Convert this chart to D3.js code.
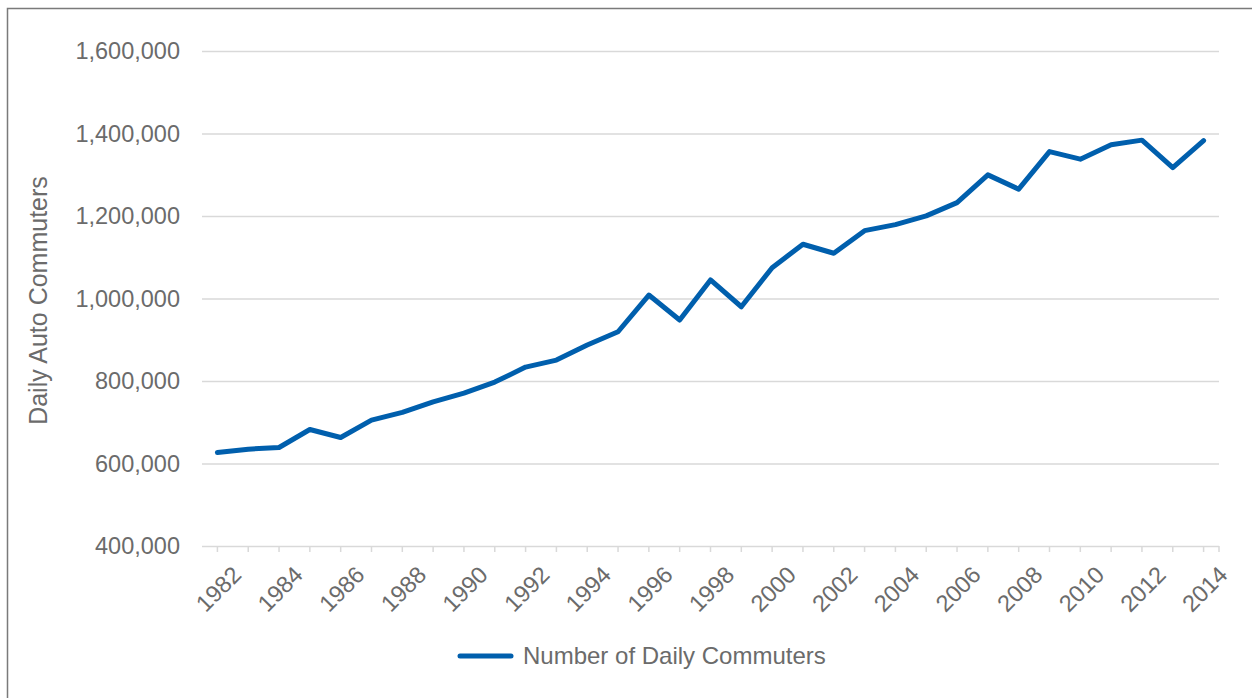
<!DOCTYPE html>
<html>
<head>
<meta charset="utf-8">
<script src="https://cdn.jsdelivr.net/npm/d3@7"></script>
<style>
  html, body { margin: 0; padding: 0; background: #fff; }
  svg { display: block; font-family: "Liberation Sans", Arial, sans-serif; }
</style>
</head>
<body>
<svg id="chart" width="1252" height="698"></svg>
<script>
// Daily auto commuters per year
const years = [1982, 1983, 1984, 1985, 1986, 1987, 1988, 1989, 1990, 1991, 1992,
  1993, 1994, 1995, 1996, 1997, 1998, 1999, 2000, 2001, 2002, 2003,
  2004, 2005, 2006, 2007, 2008, 2009, 2010, 2011, 2012, 2013, 2014];
const commuters = [626700, 634700, 638800, 682500, 663100, 705100, 723800, 749500,
  770600, 797300, 833700, 850700, 887100, 919400, 1008400, 947800, 1044900,
  980000, 1074700, 1131500, 1109700, 1164500, 1179100, 1200200, 1232500,
  1299700, 1265000, 1356200, 1337800, 1372500, 1383900, 1317400, 1382900];
const yTicks = [400000, 600000, 800000, 1000000, 1200000, 1400000, 1600000];
const labelYears = [1982, 1984, 1986, 1988, 1990, 1992, 1994, 1996, 1998, 2000,
  2002, 2004, 2006, 2008, 2010, 2012, 2014];
const seriesName = "Number of Daily Commuters";
const yTitle = "Daily Auto Commuters";

const svg = d3.select("#chart");
const textColor = "#6b6b6b";
const gridColor = "#d9d9d9";
const lineColor = "#005fad";
const fontSize = 23.5;

const plot = { left: 202, right: 1219, top: 51, bottom: 546 };

const x = d3.scalePoint().domain(years).range([plot.left, plot.right]).padding(0.5);
const y = d3.scaleLinear().domain([400000, 1600000]).range([plot.bottom, plot.top]);

// outer frame
svg.append("rect")
  .attr("x", 7.5).attr("y", 8.5)
  .attr("width", 1400).attr("height", 1000)
  .attr("fill", "none").attr("stroke", "#7a7a7a").attr("stroke-width", 1.5);

// horizontal gridlines and y labels
const yAxis = d3.axisLeft(y).tickValues(yTicks)
  .tickSize(-(plot.right - plot.left)).tickPadding(22)
  .tickFormat(d3.format(","));
const gy = svg.append("g").attr("transform", `translate(${plot.left},0)`).call(yAxis);
gy.select(".domain").remove();
gy.selectAll(".tick line").attr("stroke", gridColor).attr("stroke-width", 1.5);
gy.selectAll(".tick text")
  .attr("fill", textColor).attr("font-size", fontSize)
  .attr("font-family", "Liberation Sans, Arial, sans-serif");

// x axis: ticks at each year plus the closing edge
const gx = svg.append("g");
gx.selectAll("line.t").data(years).join("line").attr("class", "t")
  .attr("x1", d => x(d)).attr("x2", d => x(d))
  .attr("y1", plot.bottom).attr("y2", plot.bottom + 6)
  .attr("stroke", gridColor).attr("stroke-width", 1.5);
gx.append("line")
  .attr("x1", plot.right).attr("x2", plot.right)
  .attr("y1", plot.bottom).attr("y2", plot.bottom + 6)
  .attr("stroke", gridColor).attr("stroke-width", 1.5);
gx.selectAll("text").data(labelYears).join("text")
  .attr("transform", d => `translate(${x(d) + 1},${plot.bottom + 43}) rotate(-45)`)
  .attr("text-anchor", "middle").attr("dy", "0.35em")
  .attr("fill", textColor).attr("font-size", fontSize)
  .text(d => d);

// y title
svg.append("text")
  .attr("transform", `translate(38,${(plot.top + plot.bottom) / 2 + 2}) rotate(-90)`)
  .attr("text-anchor", "middle").attr("dy", "0.35em")
  .attr("fill", textColor).attr("font-size", 25)
  .text(yTitle);

// series line
const line = d3.line().x((d, i) => x(years[i])).y(d => y(d));
svg.append("path")
  .datum(commuters)
  .attr("d", line)
  .attr("fill", "none").attr("stroke", lineColor)
  .attr("stroke-width", 5).attr("stroke-linejoin", "round").attr("stroke-linecap", "round");

// legend
const lg = svg.append("g").attr("transform", "translate(460,656)");
lg.append("line").attr("x1", 0).attr("x2", 51).attr("y1", 0).attr("y2", 0)
  .attr("stroke", lineColor).attr("stroke-width", 5).attr("stroke-linecap", "round");
lg.append("text").attr("x", 63).attr("y", 0).attr("dy", "0.35em")
  .attr("fill", textColor).attr("font-size", 24)
  .text(seriesName);
</script>
</body>
</html>
